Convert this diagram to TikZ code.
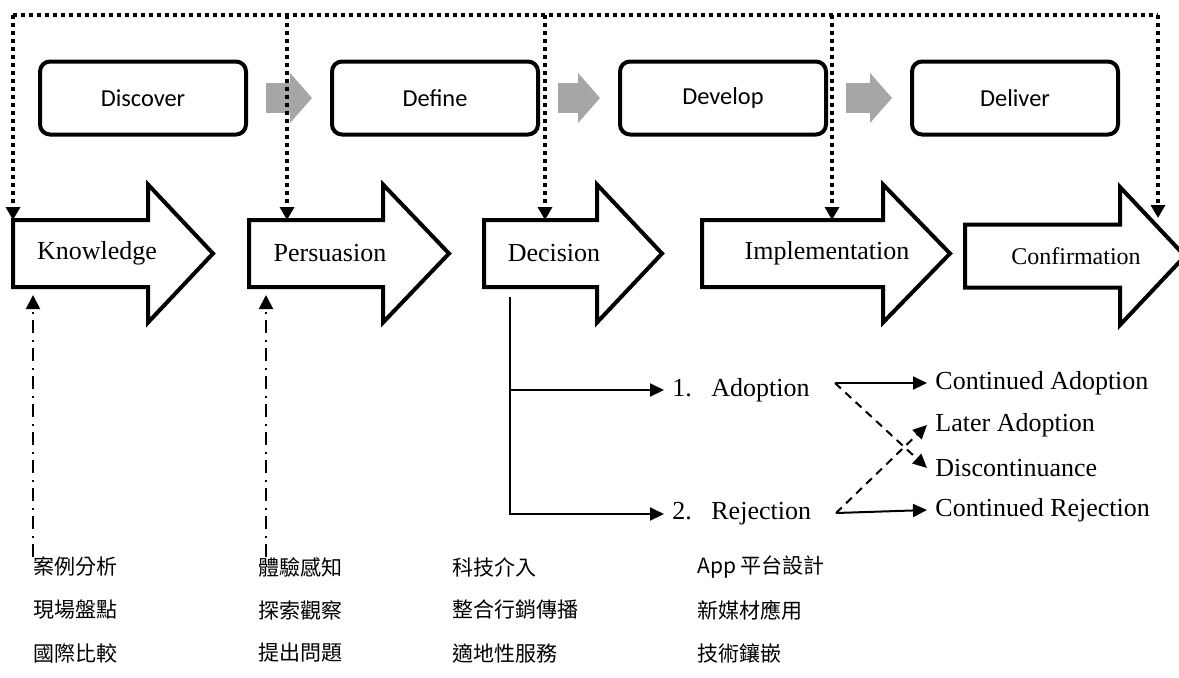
\documentclass[tikz,border=0pt]{standalone}
\usepackage{fontspec}
\setmainfont{Liberation Serif}
\newfontfamily\boxfont{Carlito}
\newfontfamily\cjkfont{Noto Sans CJK TC}
\definecolor{flowgray}{RGB}{166,166,166}
\usetikzlibrary{arrows.meta,positioning}

% block arrow: left x, head base x, tip x, middle y, half body height
\newcommand{\blockarrow}[5]{%
  \draw[line width=2pt,line join=miter]
    (#1,#4-#5) -- (#2,#4-#5) -- (#2,#4-69) -- (#3,#4)
    -- (#2,#4+69) -- (#2,#4+#5) -- (#1,#4+#5) -- cycle;}

\begin{document}
\begin{tikzpicture}[x=0.5pt,y=-0.5pt,>={Triangle[length=7pt,width=6.5pt]},
  phase/.style={draw,line width=2pt,rounded corners=5pt,
        minimum width=103pt,minimum height=36.5pt,
        font=\boxfont\fontsize{12.2}{14}\selectfont},
  flow/.style={flowgray,line width=15pt,
        -{Triangle[length=11pt,width=24.5pt]},shorten <=9pt,shorten >=9pt},
  stage/.style={inner sep=4pt,font=\fontsize{13}{15}\selectfont},
  outcome/.style={stage,anchor=west},
  cjk/.style={anchor=west,inner sep=0pt,font=\cjkfont\fontsize{10.5}{12}\selectfont},
  frameline/.style={line width=2pt,dash pattern=on 2pt off 2pt},
  frameto/.style={frameline,-{Triangle[length=6.5pt,width=7pt]}},
  feed/.style={line width=1pt,dash pattern=on 6.5pt off 3pt on 1pt off 3.5pt,
        -{Triangle[length=7pt,width=7pt]}},
  branch/.style={line width=1pt,->}]
  \useasboundingbox (0,0) rectangle (1179,677);

  % design phases
  \node[phase] (discover) at (143,98) {Discover};
  \node[phase] (define)   at (435,98) {Define};
  \node[phase] (develop)  at (723,98) {Develop};
  \node[phase] (deliver)  at (1015,98) {Deliver};
  \draw[flow] (discover) -- (define);
  \draw[flow] (define) -- (develop);
  \draw[flow] (develop) -- (deliver);

  % diffusion stages
  \blockarrow{13}{148}{213}{253.5}{33.5}
  \blockarrow{249}{383}{449}{253.5}{33.5}
  \blockarrow{484}{597}{662}{253.5}{33.5}
  \blockarrow{702}{883}{950}{253.5}{33.5}
  \blockarrow{965}{1120}{1185}{256}{31.5}
  \node[stage] (know) at (97,253) {Knowledge};
  \node[stage] (pers) at (330,253) {Persuasion};
  \node[stage] (deci) at (554,253) {Decision};
  \node[stage] (impl) at (827,253) {Implementation};
  \node[stage,font=\fontsize{12}{14}\selectfont] (conf) at (1076,256) {Confirmation};

  % dotted frame
  \coordinate (frame-l) at (13,15);
  \coordinate (frame-r) at (1158,15);
  \coordinate (know-in) at (13,220);
  \coordinate (pers-in) at (287,220);
  \coordinate (deci-in) at (545,220);
  \coordinate (impl-in) at (832,220);
  \coordinate (conf-in) at (1158,218);
  \draw[frameline] (frame-l) -- (frame-r);
  \draw[frameto] (know-in |- frame-l) -- (know-in);
  \draw[frameto] (pers-in |- frame-l) -- (pers-in);
  \draw[frameto] (deci-in |- frame-l) -- (deci-in);
  \draw[frameto] (impl-in |- frame-l) -- (impl-in);
  \draw[frameto] (conf-in |- frame-l) -- (conf-in);

  % decision branches
  \coordinate (deci-foot) at (510,297);
  \node[outcome] (adop) at (664,390) {1.\hspace{0.75em}Adoption};
  \node[outcome] (reje) at (664,514) {2.\hspace{0.75em}Rejection};
  \draw[branch] (deci-foot) |- (adop.west);
  \draw[branch] (deci-foot) |- (reje.west);

  \node[outcome] (contad)  at (927,383) {Continued Adoption};
  \node[outcome] (later)   at (927,425) {Later Adoption};
  \node[outcome] (discon)  at (927,468) {Discontinuance};
  \node[outcome] (contrej) at (927,510) {Continued Rejection};
  \coordinate (adop-out) at (835,383);
  \coordinate (reje-out) at (836,513);
  \draw[branch] (adop-out) -- (contad.west);
  \draw[branch,dashed,dash pattern=on 4pt off 3pt] (adop-out) -- (discon.west);
  \draw[branch,dashed,dash pattern=on 4pt off 3pt] (reje-out) -- (later.west);
  \draw[branch] (reje-out) -- (contrej.west);

  % methods
  \node[cjk] (k1) at (33,567) {案例分析};
  \node[cjk] (k2) at (33,610) {現場盤點};
  \node[cjk] (k3) at (33,653) {國際比較};
  \node[cjk] (p1) at (258,567) {體驗感知};
  \node[cjk] (p2) at (258,610) {探索觀察};
  \node[cjk] (p3) at (258,653) {提出問題};
  \node[cjk] (d1) at (452,567) {科技介入};
  \node[cjk] (d2) at (452,610) {整合行銷傳播};
  \node[cjk] (d3) at (452,653) {適地性服務};
  \node[cjk] (v1) at (697,567) {App 平台設計};
  \node[cjk] (v2) at (697,610) {新媒材應用};
  \node[cjk] (v3) at (697,653) {技術鑲嵌};

  \coordinate (know-foot) at (33,295);
  \coordinate (pers-foot) at (266,295);
  \draw[feed] (know-foot |- k1.north) -- (know-foot);
  \draw[feed] (pers-foot |- p1.north) -- (pers-foot);
\end{tikzpicture}
\end{document}
